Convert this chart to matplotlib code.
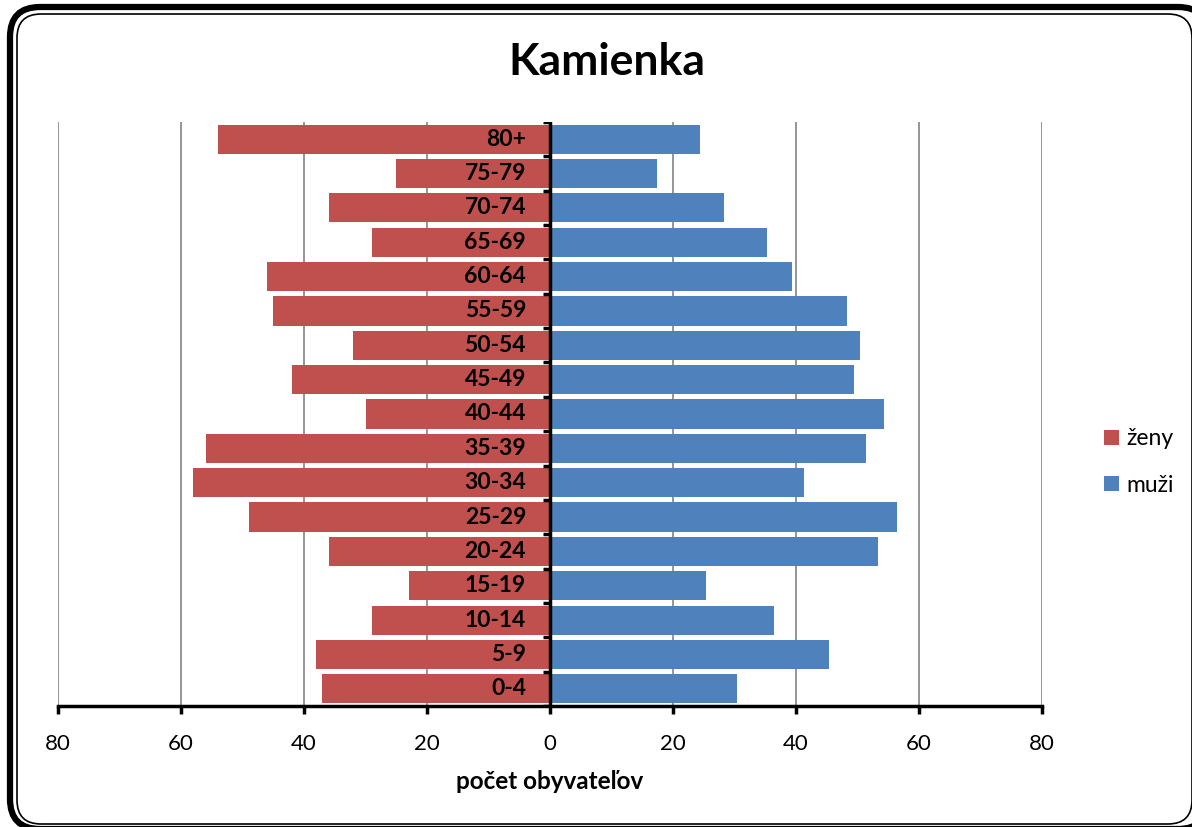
import matplotlib
matplotlib.use("Agg")
import matplotlib.pyplot as plt
from matplotlib.patches import FancyBboxPatch

plt.rcParams['font.family'] = ['Lato', 'DejaVu Sans']

age_groups = ["0-4", "5-9", "10-14", "15-19", "20-24", "25-29", "30-34", "35-39",
              "40-44", "45-49", "50-54", "55-59", "60-64", "65-69", "70-74", "75-79", "80+"]
zeny = [37, 38, 29, 23, 36, 49, 58, 56, 30, 42, 32, 45, 46, 29, 36, 25, 54]
muzi = [30, 45, 36, 25, 53, 56, 41, 51, 54, 49, 50, 48, 39, 35, 28, 17, 24]
x_ticks = [-80, -60, -40, -20, 0, 20, 40, 60, 80]
x_ticklabels = ["80", "60", "40", "20", "0", "20", "40", "60", "80"]

W, H = 1192, 827
fig = plt.figure(figsize=(W / 100, H / 100), dpi=100)

# background frame
bg = fig.add_axes([0, 0, 1, 1], zorder=-10)
bg.set_xlim(0, W)
bg.set_ylim(H, 0)
bg.axis("off")
bg.add_patch(FancyBboxPatch((10 + 30, 7 + 30), 1198 - 60, 822 - 60,
                            boxstyle="round,pad=30", fc="white", ec="black", lw=4.5))
bg.add_patch(FancyBboxPatch((17 + 24, 14 + 24), 1175 - 48, 810 - 48,
                            boxstyle="round,pad=24", fc="none", ec="black", lw=1.2))

ax = fig.add_axes([58 / W, 1 - 706 / H, 984 / W, 584 / H])
ax.set_facecolor("none")
y = list(range(len(age_groups)))
ax.barh(y, [-v for v in zeny], height=0.85, color="#C0504D", label="ženy", zorder=3)
ax.barh(y, muzi, height=0.85, color="#4F81BD", label="muži", zorder=3, left=0.35)

ax.set_xlim(-80, 80)
ax.set_ylim(-0.5, len(age_groups) - 0.5)
ax.set_xticks(x_ticks)
ax.set_xticklabels(x_ticklabels, fontsize=16)
for xv in x_ticks:
    if xv != 0:
        ax.axvline(xv, color="#8C8C8C", lw=1.3, zorder=1)

for s in ["top", "right", "left"]:
    ax.spines[s].set_visible(False)
ax.spines["bottom"].set_linewidth(2.5)
ax.spines["bottom"].set_zorder(5)
ax.tick_params(axis="x", direction="out", length=6, width=2.5, pad=14)

ax.set_yticks([])
ax.axvline(0, color="black", lw=2.5, zorder=5)
for b in range(len(age_groups) + 1):
    ax.plot([-1.2, 0], [b - 0.5, b - 0.5], color="black", lw=2.5, zorder=5,
            solid_capstyle="butt")

for yi, lab in zip(y, age_groups):
    ax.text(-3.9, yi, lab, ha="right", va="center", fontsize=16.5, fontweight="bold", zorder=6)

ax.set_xlabel("počet obyvateľov", fontsize=17.5, fontweight="bold", labelpad=12)

fig.text(607 / W, 1 - 62 / H, "Kamienka", ha="center", va="center",
         fontsize=32, fontweight="bold")

leg = fig.legend(loc="center left", bbox_to_anchor=(1083 / W, 1 - 462 / H), frameon=False,
                 fontsize=16.5, handlelength=0.65, handleheight=0.65, handletextpad=0.35,
                 labelspacing=1.1)

fig.savefig("out.png", dpi=100)
